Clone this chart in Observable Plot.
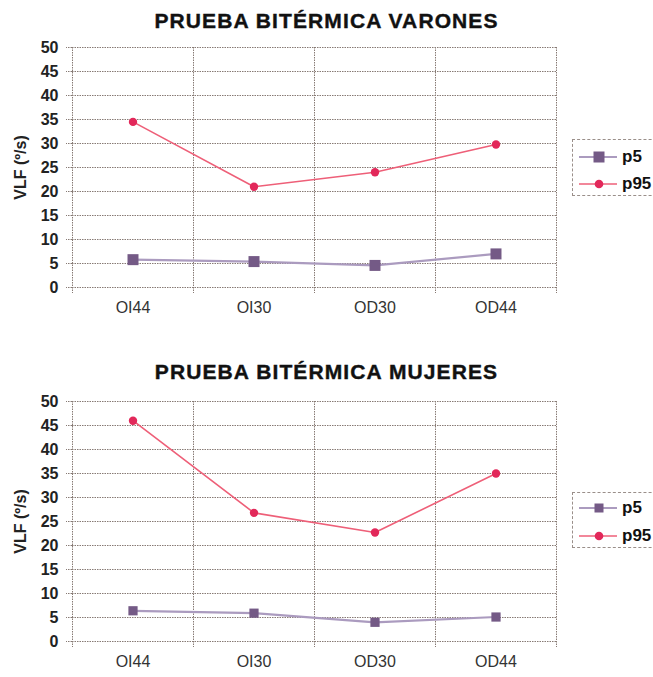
<!DOCTYPE html>
<html><head><meta charset="utf-8">
<script src="https://cdn.jsdelivr.net/npm/d3@7"></script>
<script src="https://cdn.jsdelivr.net/npm/@observablehq/plot@0.6"></script>
<style>
body{margin:0;background:#fff;font-family:"Liberation Sans",Arial,sans-serif;}
#wrap{position:relative;width:653px;height:677px;overflow:hidden;background:#fff}
.title{position:absolute;left:0;width:653px;text-align:center;font-weight:bold;font-size:21px;color:#111;letter-spacing:1.1px;white-space:nowrap;-webkit-text-stroke:0.4px #111}
.chart{position:absolute;left:0}
.legend{position:absolute;left:572px;width:100px;border:1px dashed #9a8f8a;box-sizing:border-box;border-right:none}
.row{position:absolute;left:0;height:16px;display:flex;align-items:center}
.row span{font-weight:bold;font-size:17px;color:#111;margin-left:3px}
</style></head>
<body><div id="wrap"></div>
<script>
const categories = ["OI44", "OI30", "OD30", "OD44"];
const seriesNames = ["p5", "p95"];
const varonesP5 = [5.8, 5.4, 4.6, 7.0];
const varonesP95 = [34.5, 21.0, 24.0, 29.8];
const mujeresP5 = [6.4, 5.9, 4.0, 5.1];
const mujeresP95 = [46.0, 26.8, 22.7, 35.0];
const yTicks = [0, 5, 10, 15, 20, 25, 30, 35, 40, 45, 50];
const titles = ["PRUEBA BITÉRMICA VARONES", "PRUEBA BITÉRMICA MUJERES"];
const yLabel = "VLF (º/s)";

const gridColor = "#877a74";
const p5Line = "#ab9bbf", p5Mark = "#745a86";
const p95Line = "#ee5f78", p95Mark = "#e2285a";

const wrap = document.getElementById("wrap");

function chart(p5, p95, sqR) {
  const rows = categories.map((c, i) => ({i, c, p5: p5[i], p95: p95[i]}));
  const bounds = d3.range(categories.length + 1).map(k => k - 0.5);
  return Plot.plot({
    width: 653, height: 285,
    marginLeft: 72, marginRight: 97, marginTop: 9, marginBottom: 36,
    x: {domain: [-0.5, categories.length - 0.5], axis: null},
    y: {domain: [0, 50], axis: null},
    style: {fontFamily: "'Liberation Sans', Arial, sans-serif", background: "transparent", overflow: "visible"},
    marks: [
      Plot.gridY({ticks: yTicks, stroke: gridColor, strokeOpacity: 1, strokeDasharray: "1.5,1"}),
      Plot.gridX({ticks: bounds, stroke: gridColor, strokeOpacity: 1, strokeDasharray: "1.5,1"}),
      Plot.axisY({ticks: yTicks, tickSize: 6, tickPadding: 8, stroke: gridColor, strokeDasharray: "1.5,1",
        fill: "#222", fontSize: 16, fontWeight: "bold", label: yLabel, labelAnchor: "center",
        labelArrow: "none", labelOffset: 58}),
      Plot.axisX({ticks: bounds, tickSize: 6, tickFormat: () => "", stroke: gridColor, strokeDasharray: "1.5,1", label: null}),
      Plot.axisX({ticks: d3.range(categories.length), tickSize: 0, tickPadding: 14,
        tickFormat: k => categories[k], fill: "#333", fontSize: 16, label: null}),
      Plot.line(rows, {x: "i", y: "p5", stroke: p5Line, strokeWidth: 2.2}),
      Plot.dot(rows, {x: "i", y: "p5", symbol: "square", r: sqR, fill: p5Mark, stroke: "none"}),
      Plot.line(rows, {x: "i", y: "p95", stroke: p95Line, strokeWidth: 1.6}),
      Plot.dot(rows, {x: "i", y: "p95", r: 4.2, fill: p95Mark, stroke: "none"})
    ]
  });
}

function legend(top, h, sq, rowYs) {
  const box = document.createElement("div");
  box.className = "legend";
  box.style.top = top + "px";
  box.style.height = h + "px";
  const items = [
    {name: seriesNames[0], line: p5Line, mark: p5Mark, sym: "square", lw: 2},
    {name: seriesNames[1], line: p95Line, mark: p95Mark, sym: "circle", lw: 1.4}
  ];
  items.forEach((it, k) => {
    const row = document.createElement("div");
    row.className = "row";
    row.style.top = (rowYs[k] - top - 8) + "px";
    const s = d3.create("svg").attr("width", 46).attr("height", 16);
    s.append("line").attr("x1", 6).attr("x2", 44).attr("y1", 8).attr("y2", 8)
      .attr("stroke", it.line).attr("stroke-width", it.lw);
    if (it.sym === "square") s.append("rect").attr("x", 26 - sq / 2).attr("y", 8 - sq / 2)
      .attr("width", sq).attr("height", sq).attr("fill", it.mark);
    else s.append("circle").attr("cx", 26).attr("cy", 8).attr("r", 4.3).attr("fill", it.mark);
    row.appendChild(s.node());
    const t = document.createElement("span");
    t.textContent = it.name;
    row.appendChild(t);
    box.appendChild(row);
  });
  wrap.appendChild(box);
}

const configs = [
  {title: titles[0], titleTop: 9, svgTop: 38, p5: varonesP5, p95: varonesP95, sqR: 6.2, leg: [139, 57, 11, [156, 183]]},
  {title: titles[1], titleTop: 360, svgTop: 392, p5: mujeresP5, p95: mujeresP95, sqR: 5.2, leg: [492, 56, 9, [507, 535]]}
];
configs.forEach(cfg => {
  const t = document.createElement("div");
  t.className = "title";
  t.style.top = cfg.titleTop + "px";
  t.textContent = cfg.title;
  wrap.appendChild(t);
  const svg = chart(cfg.p5, cfg.p95, cfg.sqR);
  svg.classList.add("chart");
  svg.style.top = cfg.svgTop + "px";
  wrap.appendChild(svg);
  legend(...cfg.leg);
});
</script></body></html>
